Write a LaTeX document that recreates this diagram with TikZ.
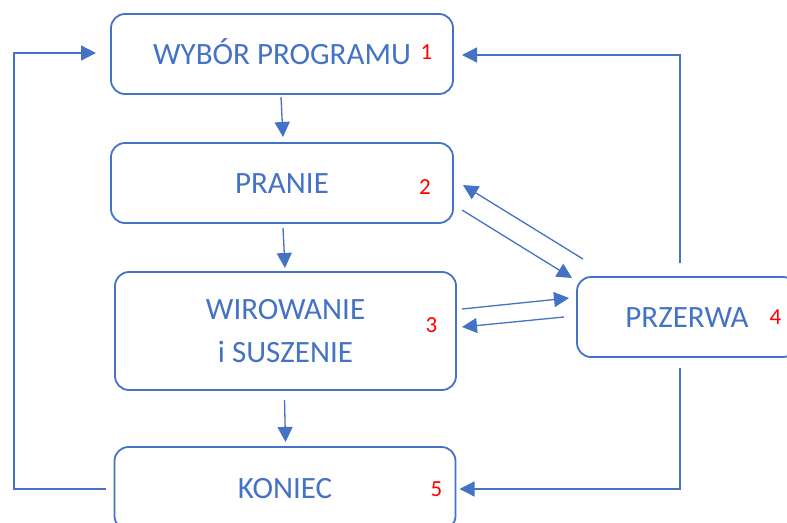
\documentclass[tikz,border=0pt]{standalone}
\usepackage{fontspec}
\setmainfont{Carlito}
\usetikzlibrary{arrows.meta,calc}
\definecolor{blu}{HTML}{4472C4}
\begin{document}
\begin{tikzpicture}[x=1pt,y=-1pt,
 box/.style={draw=blu, line width=1.8pt, rounded corners=14pt, text=blu,
   font=\fontsize{31}{43}\selectfont, align=center, inner sep=0pt, outer sep=0pt},
 one/.style={text height=20pt, text depth=0pt},
 num/.style={text=red, font=\fontsize{23}{27}\selectfont, inner sep=0pt, text height=14.5pt, text depth=0pt},
 arr/.style={draw=blu, line width=1.3pt, -{Triangle[length=15pt,width=15pt]}},
 ln/.style={draw=blu, line width=1.3pt}]
\useasboundingbox (0,0) rectangle (787,522);
\clip (0,0) rectangle (787,522);

\node[box,one,minimum width=342pt,minimum height=80pt] (b1) at (282,54) {WYBÓR PROGRAMU};
\node[box,one,minimum width=342pt,minimum height=80pt] (b2) at (282,183) {PRANIE};
\node[box,minimum width=341pt,minimum height=118pt] (b3) at (285.5,331) {WIROWANIE\\i SUSZENIE};
\node[box,one,minimum width=220pt,minimum height=80pt] (b4) at (687,317) {PRZERWA};
\node[box,one,minimum width=341pt,minimum height=83pt] (b5) at (285,488.5) {KONIEC};

\node[num] (n1) at (426.5,52.3) {1};
\node[num] (n2) at (425,187.5) {2};
\node[num] (n3) at (431.5,325.5) {3};
\node[num] (n4) at (775.5,317.5) {4};
\node[num] (n5) at (436.5,489) {5};

% vertical flow
\draw[arr] ($(b1.south)+(-1,3)$) -- ($(b2.north)+(1,-6)$);
\draw[arr] ($(b2.south)+(1,5)$) -- ($(b3.north)+(-0.5,-4)$);
\draw[arr] ($(b3.south)+(-1,10)$) -- ($(b5.north)+(0.5,-5)$);

% left loop
\coordinate (lc) at (14,489);
\draw[arr] ($(b5.west)+(-9,0.5)$) -- (lc) |- ($(b1.west)+(-15,-1)$);

% right loop to top
\draw[arr] ($(b4.north)+(-7,-14)$) |- ($(b1.east)+(9,1)$);
% right loop to bottom
\draw[arr] ($(b4.south)+(-7,11)$) |- ($(b5.east)+(4,0.5)$);

% PRANIE <-> PRZERWA
\draw[arr] ($(b4.north west)+(6,-18)$) -- ($(b2.east)+(10,2)$);
\draw[arr] ($(b2.east)+(9,27)$) -- ($(b4.north west)+(-5,1)$);

% WIROWANIE <-> PRZERWA
\draw[arr] ($(b3.east)+(6,-22)$) -- ($(b4.west)+(-8,-19)$);
\draw[arr] ($(b4.west)+(-13,0)$) -- ($(b3.east)+(6,-4)$);
\end{tikzpicture}
\end{document}
